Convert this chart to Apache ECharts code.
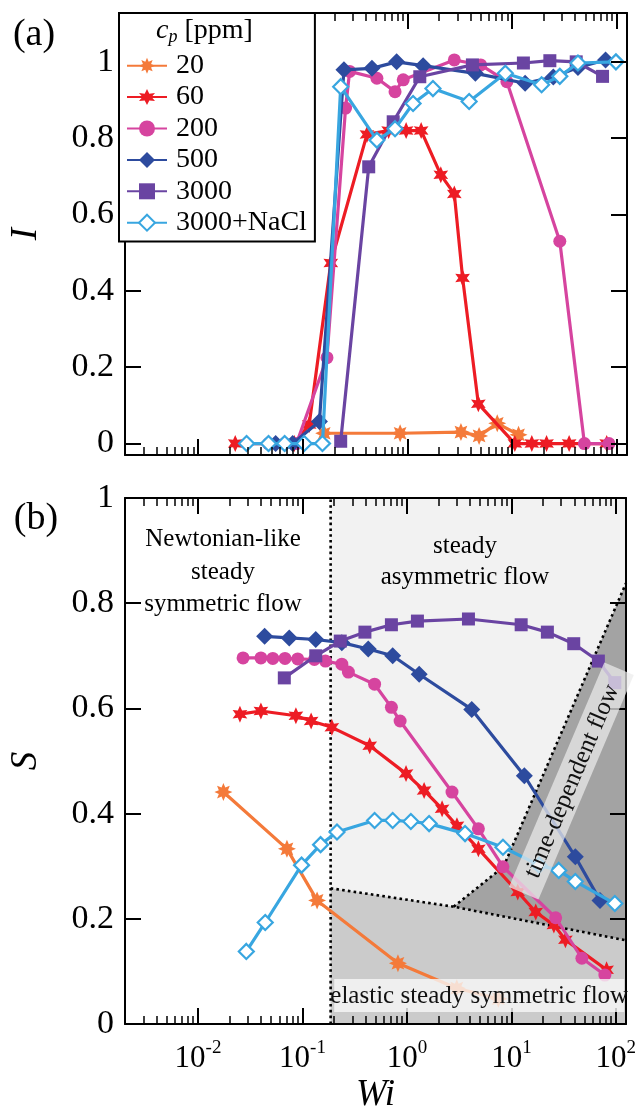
<!DOCTYPE html>
<html><head><meta charset="utf-8">
<script src="https://cdn.jsdelivr.net/npm/echarts@6/dist/echarts.min.js"></script>
<style>html,body{margin:0;padding:0;background:#fff}#c{width:639px;height:1115px}</style>
</head><body><div id="c"></div>
<script>
// ---------- data ----------
const seriesNames = ['20', '60', '200', '500', '3000', '3000+NaCl'];
const WI_MIN = 0.002, WI_MAX = 125;
const majorExps = [-2, -1, 0, 1, 2];
const minorMults = [2, 3, 4, 5, 6, 7, 8, 9];
const yTickValues = [0, 0.2, 0.4, 0.6, 0.8, 1];
const I_MIN = -0.03, I_MAX = 1.128;

// panel (a): I vs Wi
const a20_wi = [0.16, 0.85, 3.24, 4.83, 7.2, 11.5];
const a20_I  = [0.027, 0.027, 0.03, 0.02, 0.053, 0.023];
const a60_wi = [0.0226, 0.083, 0.115, 0.185, 0.41, 0.66, 0.97, 1.35, 2.08, 2.8, 3.36, 4.75, 10.6, 15.4, 21.3, 35, 80];
const a60_I  = [0, 0, 0.05, 0.473, 0.81, 0.82, 0.82, 0.82, 0.704, 0.654, 0.434, 0.104, 0, 0, 0, 0, 0];
const a200_wi = [0.047, 0.067, 0.087, 0.17, 0.256, 0.28, 0.51, 0.76, 0.91, 2.8, 5.0, 8.9, 28.5, 49, 84];
const a200_I  = [0, 0, 0, 0.225, 0.879, 0.975, 0.957, 0.922, 0.953, 1.005, 0.992, 0.948, 0.53, 0, 0];
const a500_wi = [0.055, 0.08, 0.144, 0.247, 0.457, 0.787, 1.41, 4.45, 13.3, 24.7, 42.5, 78];
const a500_I  = [0, 0, 0.058, 0.979, 0.983, 1.0, 0.99, 0.97, 0.944, 0.96, 0.985, 1.005];
const a3000_wi = [0.23, 0.426, 0.73, 1.31, 4.17, 12.8, 22.9, 40.9, 73];
const a3000_I  = [0.006, 0.725, 0.843, 0.961, 0.992, 0.997, 1.003, 1.0, 0.962];
const aNaCl_wi = [0.029, 0.047, 0.067, 0.103, 0.154, 0.23, 0.51, 0.76, 1.13, 1.75, 3.88, 8.6, 19.1, 28.5, 42.5, 98];
const aNaCl_I  = [0, 0, 0, 0, 0, 0.935, 0.795, 0.825, 0.891, 0.93, 0.896, 0.97, 0.94, 0.962, 0.997, 1.0];

// panel (b): S vs Wi
const b20_wi = [0.0175, 0.071, 0.138, 0.82, 3.0, 7.5];
const b20_S  = [0.441, 0.333, 0.235, 0.1155, 0.068, 0.048];
const b60_wi = [0.0252, 0.04, 0.0865, 0.121, 0.191, 0.44, 0.98, 1.46, 2.17, 3.01, 4.83, 11.5, 17.1, 25.5, 32.9, 81.5];
const b60_S  = [0.589, 0.595, 0.586, 0.576, 0.564, 0.529, 0.476, 0.444, 0.409, 0.377, 0.333, 0.251, 0.213, 0.188, 0.16, 0.103];
const b200_wi = [0.027, 0.040, 0.052, 0.068, 0.09, 0.13, 0.166, 0.238, 0.275, 0.49, 0.71, 0.86, 2.7, 4.83, 8.3, 26.5, 47.3, 78.5];
const b200_S  = [0.696, 0.696, 0.695, 0.695, 0.694, 0.693, 0.69, 0.684, 0.669, 0.646, 0.602, 0.576, 0.441, 0.371, 0.299, 0.202, 0.125, 0.093];
const b500_wi = [0.0434, 0.0747, 0.134, 0.238, 0.426, 0.73, 1.31, 4.17, 13.3, 40.9, 70.5];
const b500_S  = [0.737, 0.734, 0.731, 0.725, 0.713, 0.70, 0.665, 0.598, 0.472, 0.318, 0.235];
const b3000_wi = [0.067, 0.134, 0.23, 0.396, 0.71, 1.26, 3.88, 12.4, 22.1, 39.5, 68, 97.7];
const b3000_S  = [0.658, 0.70, 0.728, 0.745, 0.759, 0.766, 0.77, 0.759, 0.745, 0.723, 0.69, 0.649];
const bNaCl_wi = [0.029, 0.044, 0.098, 0.149, 0.214, 0.49, 0.73, 1.09, 1.63, 3.6, 8.3, 18.4, 28.4, 40.9, 97.7];
const bNaCl_S  = [0.138, 0.193, 0.302, 0.341, 0.365, 0.387, 0.387, 0.385, 0.381, 0.362, 0.336, 0.302, 0.292, 0.271, 0.229];

// flow regime regions in panel (b) (Wi, S)
const WI_NEWTONIAN_EDGE = 0.186;
const regionAsym    = [[WI_NEWTONIAN_EDGE, 0], [WI_MAX, 0], [WI_MAX, 1], [WI_NEWTONIAN_EDGE, 1]];
const regionElastic = [[WI_NEWTONIAN_EDGE, 0], [WI_NEWTONIAN_EDGE, 0.258], [2.8, 0.223], [WI_MAX, 0.159], [WI_MAX, 0]];
const regionTimeDep = [[2.8, 0.223], [8.4, 0.299], [WI_MAX, 0.838], [WI_MAX, 0.159]];
const boundaryVertical = [[WI_NEWTONIAN_EDGE, 0], [WI_NEWTONIAN_EDGE, 1]];
const boundaryElastic  = [[WI_NEWTONIAN_EDGE, 0.258], [2.8, 0.223], [WI_MAX, 0.159]];
const boundaryTimeDep  = [[2.8, 0.223], [8.4, 0.299], [WI_MAX, 0.838]];

// ---------- style / layout ----------
const FONT = '"Liberation Serif", "DejaVu Serif", "Times New Roman", serif';
const COLORS = ['#f47a3a', '#ed1c24', '#d6449f', '#2d4b9e', '#6a44a2', '#38a6e0'];
const L = Math.log10;

function starPath(n, rIn) {
  let d = '';
  for (let i = 0; i < 2 * n; i++) {
    const r = i % 2 ? rIn : 1;
    const a = i * Math.PI / n;
    d += (i ? 'L' : 'M') + (50 + 50 * r * Math.sin(a)).toFixed(2) + ',' + (50 - 50 * r * Math.cos(a)).toFixed(2);
  }
  return 'path://' + d + 'Z';
}
const SYMBOLS = [
  { symbol: starPath(8, 0.55), size: 18 },
  { symbol: starPath(6, 0.5), size: 17 },
  { symbol: 'circle', size: 13 },
  { symbol: 'diamond', size: 17 },
  { symbol: 'rect', size: 13 },
  { symbol: 'diamond', size: 15 }
];

const pairs = (wi, v) => wi.map((w, k) => [L(w), v[k]]);
const aData = [pairs(a20_wi, a20_I), pairs(a60_wi, a60_I), pairs(a200_wi, a200_I), pairs(a500_wi, a500_I), pairs(a3000_wi, a3000_I), pairs(aNaCl_wi, aNaCl_I)];
const bData = [pairs(b20_wi, b20_S), pairs(b60_wi, b60_S), pairs(b200_wi, b200_S), pairs(b500_wi, b500_S), pairs(b3000_wi, b3000_S), pairs(bNaCl_wi, bNaCl_S)];

const XMIN = L(WI_MIN), XMAX = L(WI_MAX);
const minorVals = [];
for (let e = -3; e <= 2; e++) for (const m of minorMults) {
  const v = L(m * Math.pow(10, e));
  if (v > XMIN + 1e-6 && v < XMAX - 1e-6) minorVals.push(v);
}

const GRIDS = [
  { left: 119, top: 13, width: 508, height: 442 },
  { left: 119, top: 498, width: 508, height: 528 }
];

function xAxes(gridIndex, withLabels) {
  const base = { type: 'value', gridIndex, min: XMIN, max: XMAX, splitLine: { show: false }, z: 10 };
  const lineStyle = { color: '#000', width: 2 };
  return [
    Object.assign({}, base, {
      position: 'bottom',
      axisLine: { show: true, onZero: false, lineStyle },
      axisTick: { show: true, inside: true, length: 16, customValues: majorExps, lineStyle: { color: '#000', width: 2 } },
      axisLabel: withLabels ? {
        show: true, margin: 15, customValues: majorExps,
        formatter: v => '{b|10}{s|' + Math.round(v) + '}',
        rich: {
          b: { fontSize: 31, fontFamily: FONT, color: '#000', lineHeight: 40, verticalAlign: 'middle' },
          s: { fontSize: 19, fontFamily: FONT, color: '#000', lineHeight: 12, verticalAlign: 'top' }
        }
      } : { show: false },
      name: withLabels ? 'Wi' : '', nameLocation: 'middle', nameGap: 53,
      nameTextStyle: { fontSize: 37, fontStyle: 'italic', fontFamily: FONT, color: '#000' }
    }),
    Object.assign({}, base, {
      position: 'bottom', axisLine: { show: false, onZero: false },
      axisTick: { show: true, inside: true, length: 8, customValues: minorVals, lineStyle: { color: '#000', width: 1.5 } },
      axisLabel: { show: false }
    }),
    Object.assign({}, base, {
      position: 'top', axisLine: { show: true, onZero: false, lineStyle },
      axisTick: { show: true, inside: true, length: 16, customValues: majorExps, lineStyle: { color: '#000', width: 2 } },
      axisLabel: { show: false }
    }),
    Object.assign({}, base, {
      position: 'top', axisLine: { show: false, onZero: false },
      axisTick: { show: true, inside: true, length: 8, customValues: minorVals, lineStyle: { color: '#000', width: 1.5 } },
      axisLabel: { show: false }
    })
  ];
}
function yAxes(gridIndex, min, max, name) {
  const base = { type: 'value', gridIndex, min, max, splitLine: { show: false }, z: 10 };
  const lineStyle = { color: '#000', width: 2 };
  return [
    Object.assign({}, base, {
      position: 'left', axisLine: { show: true, onZero: false, lineStyle },
      axisTick: { show: true, inside: true, length: 16, customValues: yTickValues, lineStyle: { color: '#000', width: 2 } },
      axisLabel: { show: true, margin: 11, customValues: yTickValues, fontSize: 34, fontFamily: FONT, color: '#000',
        formatter: v => String(Math.round(v * 10) / 10) },
      name, nameLocation: 'middle', nameGap: 80, nameRotate: 90,
      nameTextStyle: { fontSize: 37, fontStyle: 'italic', fontFamily: FONT, color: '#000' }
    }),
    Object.assign({}, base, {
      position: 'right', axisLine: { show: true, onZero: false, lineStyle },
      axisTick: { show: true, inside: true, length: 16, customValues: yTickValues, lineStyle: { color: '#000', width: 2 } },
      axisLabel: { show: false }
    })
  ];
}

function lineSeries(data, i, xIdx, yIdx) {
  const open = i === 5;
  return {
    type: 'line', name: seriesNames[i], data, xAxisIndex: xIdx, yAxisIndex: yIdx,
    symbol: SYMBOLS[i].symbol, symbolSize: SYMBOLS[i].size, symbolKeepAspect: true,
    showAllSymbol: true, z: 3 + i, animation: false,
    lineStyle: { color: COLORS[i], width: 3.2 },
    itemStyle: open ? { color: '#ffffff', borderColor: COLORS[i], borderWidth: 2.2 } : { color: COLORS[i], borderWidth: 0 },
    emphasis: { disabled: true }
  };
}

const polyRegions = [
  { pts: regionAsym, fill: '#f2f2f2' },
  { pts: regionElastic, fill: '#cbcbcb' },
  { pts: regionTimeDep, fill: '#a3a3a3' }
];
const boundaries = [boundaryVertical, boundaryElastic, boundaryTimeDep];
const toPx = (api, p) => api.coord([L(p[0]), p[1]]);

const series = [];
series.push({
  type: 'custom', xAxisIndex: 4, yAxisIndex: 2, z: 1, silent: true, animation: false,
  data: polyRegions.map((r, k) => [XMIN, k]),
  renderItem: (params, api) => {
    const r = polyRegions[params.dataIndex];
    return { type: 'polygon', shape: { points: r.pts.map(p => toPx(api, p)) }, style: { fill: r.fill } };
  }
});
series.push({
  type: 'custom', xAxisIndex: 4, yAxisIndex: 2, z: 2, silent: true, animation: false,
  data: boundaries.map((b, k) => [XMIN, k]),
  renderItem: (params, api) => {
    const b = boundaries[params.dataIndex];
    return { type: 'polyline', shape: { points: b.map(p => toPx(api, p)) },
      style: { stroke: '#000', lineWidth: 2.6, lineDash: [2.6, 3.2], fill: null } };
  }
});
aData.forEach((d, i) => series.push(lineSeries(d, i, 0, 0)));
bData.forEach((d, i) => series.push(lineSeries(d, i, 4, 2)));

// annotation boxes drawn over the data
const boxNotes = [
  { wi: 37.5, s: 0.462, rot: 67, w: 244, h: 32, text: 'time-dependent flow', fill: 'rgba(236,236,236,0.72)' },
  { wi: 4.92, s: 0.054, rot: 0, w: 290, h: 33, text: 'elastic steady symmetric flow', fill: 'rgba(247,247,247,0.8)' }
];
series.push({
  type: 'custom', xAxisIndex: 4, yAxisIndex: 2, z: 20, silent: true, animation: false, clip: false,
  data: boxNotes.map((b, k) => [XMIN, k]),
  renderItem: (params, api) => {
    const b = boxNotes[params.dataIndex];
    const c = api.coord([L(b.wi), b.s]);
    return {
      type: 'group', x: c[0], y: c[1], rotation: b.rot * Math.PI / 180,
      children: [
        { type: 'rect', shape: { x: -b.w / 2, y: -b.h / 2, width: b.w, height: b.h }, style: { fill: b.fill } },
        { type: 'text', style: { text: b.text, x: 0, y: 1, align: 'center', verticalAlign: 'middle',
          fontSize: 25, fontFamily: FONT, fill: '#111' } }
      ]
    };
  }
});

const txt = (x, y, text, size, extra) => ({
  type: 'text', x, y, z: 30,
  style: Object.assign({ text, fontSize: size, fontFamily: FONT, fill: '#000', align: 'center', verticalAlign: 'middle' }, extra || {})
});

const option = {
  animation: false,
  backgroundColor: '#fff',
  grid: GRIDS,
  xAxis: xAxes(0, false).concat(xAxes(1, true)),
  yAxis: yAxes(0, I_MIN, I_MAX, 'I').concat(yAxes(1, 0, 1, 'S')),
  legend: {
    data: seriesNames, orient: 'vertical', left: 119, top: 13,
    padding: [37, 8, 3, 7], itemWidth: 40, itemHeight: 20, itemGap: 0,
    borderColor: '#000', borderWidth: 2, backgroundColor: '#fff',
    textStyle: { fontSize: 28, fontFamily: FONT, color: '#000', lineHeight: 31.4, padding: [0, 0, 0, 4] },
    selectedMode: false, z: 25
  },
  graphic: [
    txt(34, 35, '(a)', 38),
    txt(36, 519, '(b)', 38),
    {
      type: 'text', left: 156, top: 17, z: 30,
      style: {
        text: '{i|c}{p|p}{n| [ppm]}',
        rich: {
          i: { fontSize: 28, fontStyle: 'italic', fontFamily: FONT, fill: '#000', lineHeight: 30, verticalAlign: 'middle' },
          p: { fontSize: 18, fontStyle: 'italic', fontFamily: FONT, fill: '#000', lineHeight: 14, verticalAlign: 'bottom' },
          n: { fontSize: 28, fontFamily: FONT, fill: '#000', lineHeight: 30, verticalAlign: 'middle' }
        }
      }
    },
    txt(223, 572, 'Newtonian-like\nsteady\nsymmetric flow', 25, { lineHeight: 32.5 }),
    txt(465, 562, 'steady\nasymmetric flow', 25, { lineHeight: 30.5 })
  ],
  series
};

const chart = echarts.init(document.getElementById('c'), null, { renderer: 'canvas' });
chart.setOption(option);
</script>
</body></html>
